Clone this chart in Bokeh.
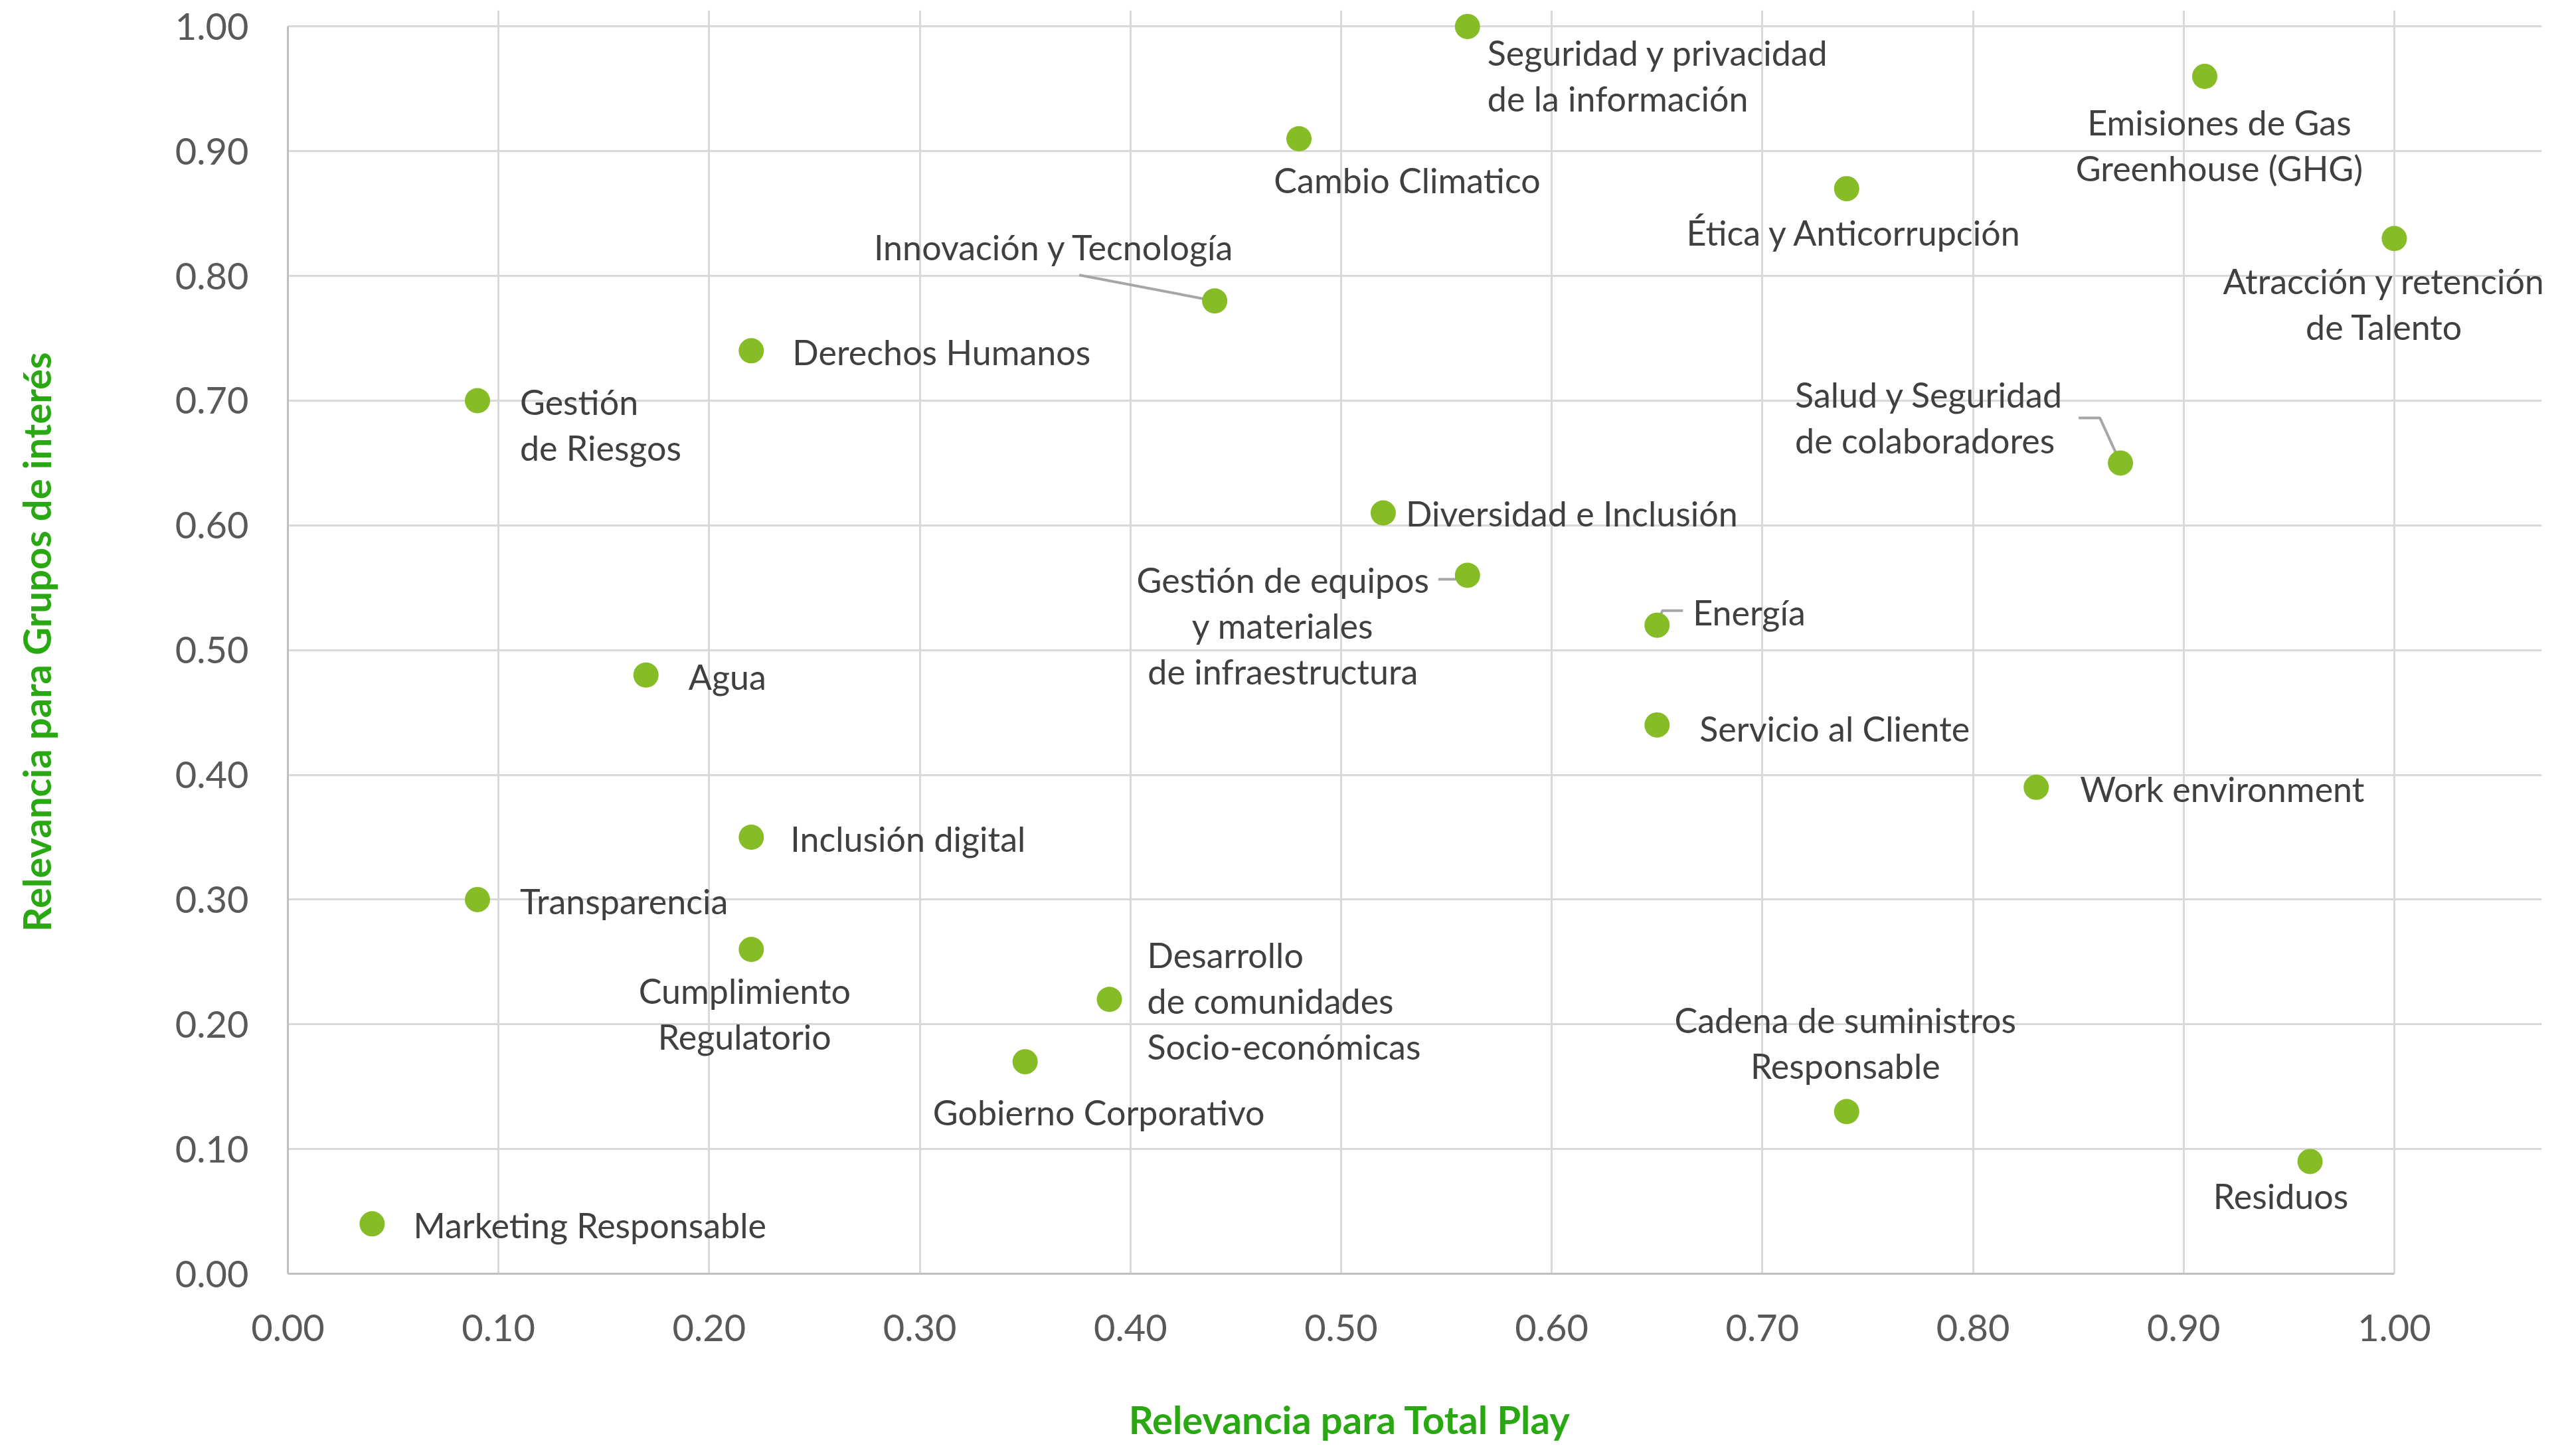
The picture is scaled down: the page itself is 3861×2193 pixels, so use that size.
from bokeh.plotting import figure
from bokeh.models import (ColumnDataSource, LabelSet, Range1d, FixedTicker,
                          NumeralTickFormatter)
from bokeh.core.properties import value
from bokeh.embed import file_html
from bokeh.resources import INLINE

# ---------------- data ----------------
temas = [
    "Seguridad y privacidad\nde la información",
    "Emisiones de Gas\nGreenhouse (GHG)",
    "Cambio Climatico",
    "Ética y Anticorrupción",
    "Atracción y retención\nde Talento",
    "Innovación y Tecnología",
    "Derechos Humanos",
    "Gestión\nde Riesgos",
    "Salud y Seguridad\nde colaboradores",
    "Diversidad e Inclusión",
    "Gestión de equipos\ny materiales\nde infraestructura",
    "Energía",
    "Agua",
    "Servicio al Cliente",
    "Work environment",
    "Inclusión digital",
    "Transparencia",
    "Cumplimiento\nRegulatorio",
    "Desarrollo\nde comunidades\nSocio-económicas",
    "Gobierno Corporativo",
    "Cadena de suministros\nResponsable",
    "Residuos",
    "Marketing Responsable",
]
relevancia_total_play = [0.56, 0.91, 0.48, 0.74, 1.00, 0.44, 0.22, 0.09, 0.87, 0.52,
                         0.56, 0.65, 0.17, 0.65, 0.83, 0.22, 0.09, 0.22, 0.39, 0.35,
                         0.74, 0.96, 0.04]
relevancia_grupos = [1.00, 0.96, 0.91, 0.87, 0.83, 0.78, 0.74, 0.70, 0.65, 0.61,
                     0.56, 0.52, 0.48, 0.44, 0.39, 0.35, 0.30, 0.26, 0.22, 0.17,
                     0.13, 0.09, 0.04]
tick_values = [0.0, 0.1, 0.2, 0.3, 0.4, 0.5, 0.6, 0.7, 0.8, 0.9, 1.0]
x_title = "Relevancia para Total Play"
y_title = "Relevancia para Grupos de interés"

# ---------------- layout (screen px) ----------------
# label placement: (align, dx, dy to first line centre; dy positive = down)
label_layout = [
    ("left", 30, 39), ("center", 22, 69), ("center", 163, 62), ("center", 12, 66),
    ("center", -15, 64), ("center", -241, -81), ("left", 62, 2), ("left", 64, 2),
    ("left", -490, -103), ("left", 34, 0), ("center", -278, 7), ("left", 54, -20),
    ("left", 64, 2), ("left", 64, 5), ("left", 66, 2), ("left", 59, 2),
    ("left", 64, 2), ("center", -10, 62), ("left", 57, -67), ("center", 111, 76),
    ("center", -2, -138), ("center", -44, 52), ("left", 62, 2),
]
LINE_STEP = 69
# leader lines: index of point -> polyline offsets in px from the point
leaders = {
    5: [(0, 0), (-204, -39)],
    8: [(0, 0), (-31, -68), (-63, -68)],
    10: [(0, 0), (-19, 6), (-44, 6)],
    11: [(0, 0), (8, -22), (39, -22)],
}

W, H = 3845, 2177
FRAME_LEFT, FRAME_X1 = 433, 3605      # screen x of data 0 and 1
FRAME_Y1, FRAME_BOTTOM = 39, 1918     # screen y of data 1 and 0
PX_X = FRAME_X1 - FRAME_LEFT
PX_Y = FRAME_BOTTOM - FRAME_Y1
XPAD, YPAD = 0.07, 0.013
frame_w = PX_X * (1 + XPAD)
frame_top = FRAME_Y1 - PX_Y * YPAD
# the frame is padded on the right so the right-most label is not clipped;
# pad the centred x title with no-break spaces so its text sits over the 0..1 span
TITLE_PAD = "\u00a0" * 14

FONT = "Lato"
TEXT_COLOR = "#404040"
TICK_COLOR = "#595959"
GREEN_TITLE = "#2aa814"
DOT = "#86bc25"

p = figure(width=W, height=H, output_backend="svg", toolbar_location=None,
           x_range=Range1d(0, 1 + XPAD), y_range=Range1d(0, 1 + YPAD),
           min_border_left=FRAME_LEFT, min_border_top=int(round(frame_top)),
           min_border_right=int(round(W - FRAME_LEFT - frame_w)),
           min_border_bottom=H - FRAME_BOTTOM)
p.outline_line_color = None
p.background_fill_color = None
p.border_fill_color = "white"

for ax in (p.xaxis[0], p.yaxis[0]):
    ax.ticker = FixedTicker(ticks=tick_values)
    ax.formatter = NumeralTickFormatter(format="0.00")
    ax.bounds = (0, 1)
    ax.axis_line_color = "#bfbfbf"
    ax.axis_line_width = 3
    ax.major_tick_line_color = None
    ax.minor_tick_line_color = None
    ax.major_label_text_font = FONT
    ax.major_label_text_font_size = "56px"
    ax.major_label_text_color = TICK_COLOR
    ax.axis_label_text_font = FONT
    ax.axis_label_text_font_style = "bold"
    ax.axis_label_text_font_size = "58px"
    ax.axis_label_text_color = GREEN_TITLE

p.xaxis.axis_label = x_title + TITLE_PAD
p.yaxis.axis_label = y_title
p.xaxis.major_label_standoff = 55
p.xaxis.axis_label_standoff = 80
p.yaxis.major_label_standoff = 53
p.yaxis.axis_label_standoff = 172

for g in (p.xgrid[0], p.ygrid[0]):
    g.ticker = FixedTicker(ticks=tick_values)
    g.bounds = (0, 1)
    g.grid_line_color = "#d9d9d9"
    g.grid_line_width = 3

# leader lines
xs, ys = [], []
for i, pts in leaders.items():
    xs.append([relevancia_total_play[i] + dx / PX_X for dx, dy in pts])
    ys.append([relevancia_grupos[i] - dy / PX_Y for dx, dy in pts])
p.multi_line(xs, ys, line_color="#a6a6a6", line_width=4)

# points
src = ColumnDataSource(dict(x=relevancia_total_play, y=relevancia_grupos))
p.scatter("x", "y", source=src, size=38, fill_color=DOT, line_color=None)

# labels (one row per text line)
rows = {"left": dict(x=[], y=[], t=[], xo=[], yo=[]),
        "center": dict(x=[], y=[], t=[], xo=[], yo=[])}
for i, name in enumerate(temas):
    align, dx, dy = label_layout[i]
    for j, line in enumerate(name.split("\n")):
        r = rows[align]
        r["x"].append(relevancia_total_play[i])
        r["y"].append(relevancia_grupos[i])
        r["t"].append(line)
        r["xo"].append(dx)
        r["yo"].append(-(dy + j * LINE_STEP))

for align, r in rows.items():
    ls = LabelSet(x="x", y="y", text="t", x_offset="xo", y_offset="yo",
                  source=ColumnDataSource(r), text_align=align,
                  text_baseline="middle", text_font=value(FONT),
                  text_font_size="52px", text_color=TEXT_COLOR)
    p.add_layout(ls)

open("out.html", "w").write(file_html(p, INLINE))
